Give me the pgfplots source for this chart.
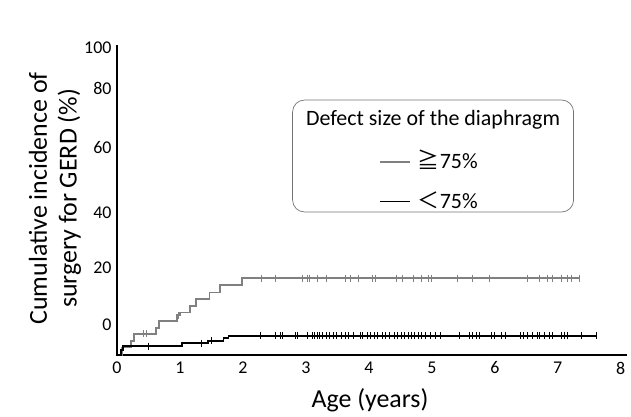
\documentclass[border=0pt]{standalone}
\usepackage{fontspec}
\setmainfont{Carlito}
\newfontfamily\cjk{Noto Sans CJK JP}
\usepackage{pgfplots}
\pgfplotsset{compat=1.18}
\begin{document}
\begin{tikzpicture}
\begin{axis}[
  scale only axis, width=510bp, height=310bp,
  xmin=0, xmax=8.1, ymin=0, ymax=100,
  axis lines=left, axis line style={-, line width=1.2pt},
  xtick={0,1,...,8}, ytick={0,10,...,100}, yticklabels={},
  tick style={black, line width=0.6pt}, major tick length=2.5bp,
  extra y ticks={99,86,67,46,28,9.7},
  extra y tick labels={100,80,60,40,20,0},
  extra y tick style={major tick length=0pt},
  /pgf/number format/assume math mode=true,
  tick label style={font=\fontsize{18}{20}\selectfont},
  xticklabel style={yshift=-2bp},
  yticklabel style={xshift=-2bp},
  xlabel={Age (years)},
  xlabel style={font=\fontsize{26}{30}\selectfont, at={(rel axis cs:0.496,-0.145)}, anchor=center},
  ylabel={Cumulative incidence of\\surgery for GERD (\%)},
  ylabel style={font=\fontsize{26}{30}\selectfont, align=center, at={(rel axis cs:-0.1216,0.505)}, anchor=center},
  clip=false,
]
% >=75%
\addplot[const plot, black!50, line width=1.8pt] coordinates {
(0,0) (0.08,2.4) (0.22,4.4) (0.27,6.8) (0.62,8.7) (0.67,11.1) (0.95,12.9) (1.0,13.7) (1.16,15.7) (1.25,18.0) (1.47,20.2) (1.63,22.6) (1.98,24.8) (7.35,24.8)};
\addplot[only marks, mark=|, mark size=3.5bp, black!50, mark options={line width=0.8pt}] coordinates {
(0.42,6.8) (0.46,6.8) (0.97,12.9)
(2.30,24.8) (2.51,24.8) (2.94,24.8) (3.02,24.8) (3.06,24.8) (3.19,24.8) (3.33,24.8) (3.62,24.8) (3.70,24.8) (3.83,24.8) (4.05,24.8) (4.10,24.8) (4.44,24.8) (4.54,24.8) (4.70,24.8) (4.84,24.8) (4.94,24.8) (5.00,24.8) (5.40,24.8) (5.65,24.8) (5.92,24.8) (6.51,24.8) (6.71,24.8) (6.83,24.8) (6.92,24.8) (7.06,24.8) (7.16,24.8) (7.22,24.8) (7.35,24.8)};
% <75%
\addplot[const plot, black, line width=1.8pt] coordinates {
(0,0) (0.06,1.5) (0.1,2.9) (1.03,3.8) (1.45,4.6) (1.69,5.4) (1.77,6.2) (7.63,6.2)};
\addplot[only marks, mark=|, mark size=3.5bp, black, mark options={line width=0.8pt}] coordinates {
(0.5,2.9) (1.34,3.8) (1.5,4.6)
(2.27,6.2) (2.51,6.2) (2.59,6.2) (2.63,6.2) (2.83,6.2) (2.86,6.2) (3.03,6.2) (3.10,6.2) (3.14,6.2) (3.19,6.2) (3.22,6.2) (3.27,6.2) (3.32,6.2) (3.38,6.2) (3.43,6.2) (3.49,6.2) (3.57,6.2) (3.62,6.2) (3.68,6.2) (3.75,6.2) (3.86,6.2) (3.90,6.2) (3.97,6.2) (4.02,6.2) (4.08,6.2) (4.14,6.2) (4.22,6.2) (4.27,6.2) (4.33,6.2) (4.41,6.2) (4.46,6.2) (4.52,6.2) (4.57,6.2) (4.62,6.2) (4.68,6.2) (4.73,6.2) (4.78,6.2) (4.83,6.2) (4.89,6.2) (4.97,6.2) (5.05,6.2) (5.13,6.2) (5.44,6.2) (5.60,6.2) (5.65,6.2) (5.70,6.2) (5.76,6.2) (5.95,6.2) (6.00,6.2) (6.11,6.2) (6.17,6.2) (6.40,6.2) (6.46,6.2) (6.51,6.2) (6.60,6.2) (6.67,6.2) (6.71,6.2) (6.79,6.2) (6.86,6.2) (6.92,6.2) (7.06,6.2) (7.11,6.2) (7.16,6.2) (7.38,6.2) (7.62,6.2)};
% legend box
\node[draw=black!55, line width=0.7pt, rounded corners=12bp, minimum width=281bp, minimum height=112bp] at (axis cs:5.02,64.2) {};
\node[font=\fontsize{22}{26}\selectfont] at (axis cs:5.02,75.8) {Defect size of the diaphragm};
\node[font=\fontsize{22}{26}\selectfont, anchor=west] at (axis cs:4.12,62.9) {\textcolor{black!50}{\rule[0.28em]{30bp}{1.6pt}}\hspace{8bp}{\cjk ≧}75\%};
\node[font=\fontsize{22}{26}\selectfont, anchor=west] at (axis cs:4.12,50.0) {\rule[0.28em]{30bp}{1.6pt}\hspace{8bp}{\cjk ＜}75\%};
\coordinate (bl) at (rel axis cs:-0.2294,-0.1968);
\coordinate (tr) at (rel axis cs:1.0078,1.1452);
\end{axis}
\pgfresetboundingbox
\path[use as bounding box] (bl) rectangle (tr);
\end{tikzpicture}
\end{document}
